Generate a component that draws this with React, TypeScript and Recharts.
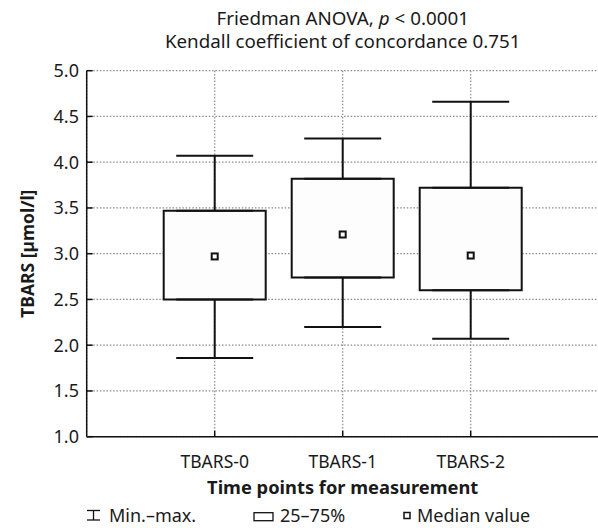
import React from 'react';
import { ComposedChart, Bar, Scatter, ErrorBar, XAxis, YAxis, CartesianGrid } from 'recharts';

const categories = ['TBARS-0', 'TBARS-1', 'TBARS-2'];
const minValues = [1.86, 2.2, 2.07];
const q1Values = [2.5, 2.74, 2.6];
const medianValues = [2.97, 3.21, 2.98];
const q3Values = [3.47, 3.82, 3.72];
const maxValues = [4.07, 4.26, 4.66];
const yTicks = [1.0, 1.5, 2.0, 2.5, 3.0, 3.5, 4.0, 4.5, 5.0];
const frameTicks = [1, 2, 3];

const data = categories.map((name, i) => ({
  name,
  box: [q1Values[i], q3Values[i]],
  median: medianValues[i],
  q1: q1Values[i],
  q3: q3Values[i],
  lowErr: [q1Values[i] - minValues[i], 0],
  highErr: [0, maxValues[i] - q3Values[i]],
}));

const FONT = '"Noto Sans", sans-serif';
const TEXT = '#1a1a1a';

const Nothing = () => <g />;
const MedianMark = (props: any) => {
  const { cx, cy } = props;
  return <rect x={cx - 3} y={cy - 3} width={6} height={6} fill="#fff" stroke="#111" strokeWidth={2} />;
};

export default function App() {
  return (
    <div style={{ position: 'absolute', left: 0, top: 0, width: 598, height: 528, overflow: 'hidden', background: '#fff' }}>
      <ComposedChart
        width={600}
        height={528}
        data={data}
        margin={{ top: 70.7, right: 1.3, bottom: 61.3, left: 0 }}
      >
        <CartesianGrid stroke="#8a8a8a" strokeWidth={1.2} strokeDasharray="1.5 1.8" />
        <XAxis
          dataKey="name"
          type="category"
          height={30}
          padding={{ left: 64, right: 64 }}
          stroke="#111"
          strokeWidth={1.5}
          tickSize={-6}
          tickMargin={25}
          tick={{ fontSize: 17.5, fill: TEXT, fontFamily: FONT }}
          tickLine={{ stroke: '#111', strokeWidth: 1.5 }}
        />
        <XAxis
          xAxisId="top"
          orientation="top"
          type="number"
          domain={[0, 4]}
          ticks={frameTicks}
          height={0}
          stroke="#111"
          strokeWidth={1.5}
          tickSize={-6}
          tickFormatter={() => ''}
          tickLine={{ stroke: '#111', strokeWidth: 1.5 }}
        />
        <YAxis
          type="number"
          domain={[1, 5]}
          ticks={yTicks}
          width={86.7}
          stroke="#111"
          strokeWidth={1.5}
          tickSize={-6}
          tickMargin={13.7}
          tickFormatter={(v: number) => v.toFixed(1)}
          tick={{ fontSize: 18, fill: TEXT, fontFamily: FONT }}
          tickLine={{ stroke: '#111', strokeWidth: 1.5 }}
        />
        <YAxis
          yAxisId="right"
          orientation="right"
          type="number"
          domain={[1, 5]}
          ticks={yTicks}
          width={0}
          stroke="#111"
          strokeWidth={1.5}
          tickSize={-6}
          tickFormatter={() => ''}
          tickLine={{ stroke: '#111', strokeWidth: 1.5 }}
        />
        <Scatter dataKey="q3" shape={Nothing} isAnimationActive={false} legendType="none">
          <ErrorBar dataKey="highErr" direction="y" width={38.5} stroke="#111" strokeWidth={2} isAnimationActive={false} />
        </Scatter>
        <Scatter dataKey="q1" shape={Nothing} isAnimationActive={false} legendType="none">
          <ErrorBar dataKey="lowErr" direction="y" width={38.5} stroke="#111" strokeWidth={2} isAnimationActive={false} />
        </Scatter>
        <Bar dataKey="box" barSize={102} fill="#fdfdfd" stroke="#111" strokeWidth={2} isAnimationActive={false} />
        <Scatter dataKey="median" shape={MedianMark} isAnimationActive={false} />
      </ComposedChart>
      <svg width={598} height={528} style={{ position: 'absolute', left: 0, top: 0, pointerEvents: 'none' }} fontFamily={FONT}>
        <text x={342.7} y={25} textAnchor="middle" fontSize={18.8} fill={TEXT}>
          Friedman ANOVA, <tspan fontStyle="italic">p</tspan> &lt; 0.0001
        </text>
        <text x={342.7} y={48} textAnchor="middle" fontSize={18.8} fill={TEXT}>
          Kendall coefficient of concordance 0.751
        </text>
        <text x={342.7} y={493.5} textAnchor="middle" fontSize={18.3} fontWeight="bold" fill={TEXT}>
          Time points for measurement
        </text>
        <text
          x={27}
          y={253.7}
          textAnchor="middle"
          dominantBaseline="central"
          fontSize={17.5}
          fontWeight="bold"
          fill={TEXT}
          transform="rotate(-90 27 253.7)"
        >
          TBARS [µmol/l]
        </text>
        <g stroke="#111" strokeWidth={1.3} fill="none">
          <line x1={87} y1={510.5} x2={100} y2={510.5} />
          <line x1={87} y1={520} x2={100} y2={520} />
          <line x1={93.5} y1={510.5} x2={93.5} y2={520} />
          <rect x={254} y={512.7} width={19} height={8} />
          <rect x={404} y={512.5} width={6} height={6} strokeWidth={1.5} fill="#fff" />
        </g>
        <text x={109} y={521.5} fontSize={18} fill={TEXT}>Min.–max.</text>
        <text x={280} y={521.5} fontSize={18} fill={TEXT}>25–75%</text>
        <text x={417} y={521.5} fontSize={18} fill={TEXT}>Median value</text>
      </svg>
    </div>
  );
}
